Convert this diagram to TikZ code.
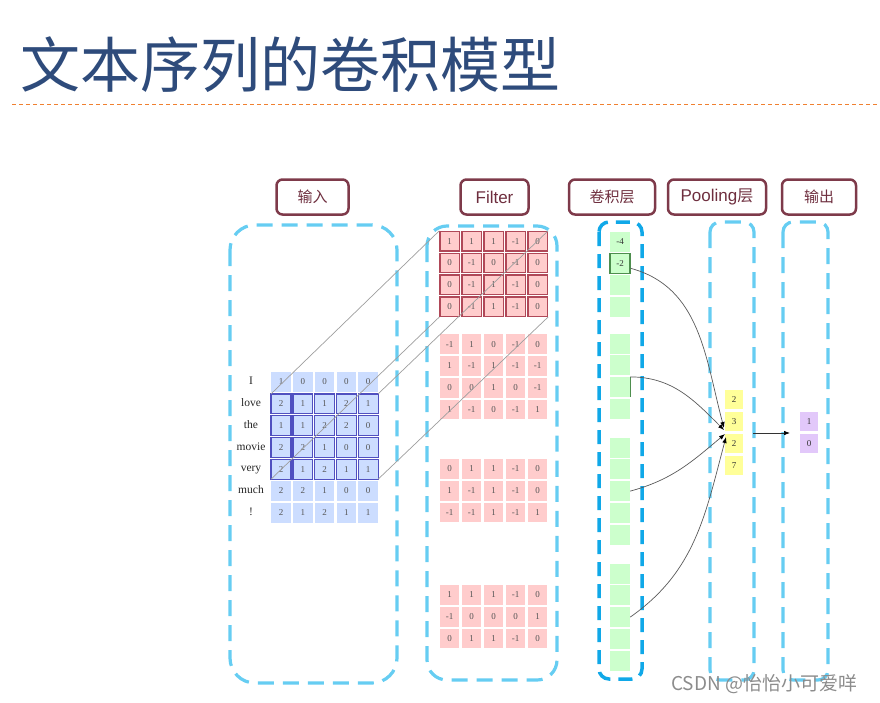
\documentclass[tikz,border=0pt]{standalone}
\usepackage{fontspec}
\setmainfont{Liberation Serif}
\newfontfamily\cjk{Noto Sans CJK SC}
\newfontfamily\arial{Liberation Sans}
\usetikzlibrary{arrows.meta}
\definecolor{titleblue}{HTML}{2E4B7B}
\definecolor{dashorange}{HTML}{F08030}
\definecolor{hdrborder}{HTML}{7E3A4A}
\definecolor{hdrtext}{HTML}{6E2E3E}
\definecolor{collight}{HTML}{66CDF2}
\definecolor{coldark}{HTML}{10A8E8}
\definecolor{inblue}{HTML}{CCDDFF}
\definecolor{inborder}{HTML}{5050C0}
\definecolor{fpink}{HTML}{FFCCCC}
\definecolor{fborder}{HTML}{B04858}
\definecolor{cgreen}{HTML}{CCFFCC}
\definecolor{cborder}{HTML}{4E8E4E}
\definecolor{pyellow}{HTML}{FFFF99}
\definecolor{opurple}{HTML}{E2C8FA}
\definecolor{numgray}{HTML}{555555}
\newcommand{\filtermat}[4]{%
  \foreach \rw [count=\r] in {#4} {
    \foreach \v [count=\c] in \rw {
      \node[#1] (#2-\r-\c) at ({449.7+(\c-1)*22}, {-#3-(\r-1)*21.8}) {\v};
    }
  }
}
\newcommand{\convgroup}[3]{%
  \foreach \k in {1,...,#3} {
    \node[ccell] (conv-#1-\k) at (620, {-#2-(\k-1)*21.8}) {};
  }
}
\tikzset{
  cell/.style={minimum width=19.5pt, minimum height=19.5pt, inner sep=0pt,
    font=\fontsize{9}{9}\selectfont, text=numgray},
  incell/.style={cell, fill=inblue},
  fcell/.style={cell, fill=fpink},
  fhl/.style={fcell, draw=fborder, line width=1.3pt},
  ccell/.style={cell, fill=cgreen, minimum width=20pt, minimum height=20pt, text=black!80},
  pcell/.style={cell, fill=pyellow, minimum width=18pt, minimum height=19pt, text=black!80},
  ocell/.style={cell, fill=opurple, minimum width=18pt, minimum height=19pt, text=black!80},
  word/.style={inner sep=0pt, font=\fontsize{11.5}{12}\selectfont, text=black!85,
    text height=8pt, text depth=2.5pt},
  hdr/.style={draw=hdrborder, line width=2.5pt, rounded corners=6pt, text=hdrtext,
    minimum height=35pt, inner sep=0pt},
  colbox/.style={draw=collight, line width=3.2pt, dash pattern=on 16pt off 9pt},
  guide/.style={draw=black!38, line width=0.7pt},
  conn/.style={draw=black!65, line width=0.7pt, -{Latex[length=6pt,width=4.5pt,color=black]}},
}
\begin{document}
\begin{tikzpicture}[x=1pt,y=1pt]
\useasboundingbox (0,0) rectangle (880,-702);
% title
\node[anchor=west, inner sep=0pt, text=titleblue, font=\cjk\fontsize{60}{60}\selectfont]
  (title) at (20,-65) {文本序列的卷积模型};
\draw[dashorange, line width=1pt, dash pattern=on 4pt off 3pt] (12,-104) -- (880,-104);
% headers
\node[hdr, minimum width=72pt, font=\cjk\fontsize{15}{15}\selectfont] (h-in) at (312.5,-197) {输入};
\node[hdr, minimum width=68pt, font=\arial\fontsize{17}{17}\selectfont] (h-filter) at (494.5,-197) {Filter};
\node[hdr, minimum width=86pt, font=\cjk\fontsize{15}{15}\selectfont] (h-conv) at (612,-197) {卷积层};
\node[hdr, minimum width=98pt, font=\arial\fontsize{17}{17}\selectfont] (h-pool) at (717,-197) {Pooling{\cjk\fontsize{16}{16}\selectfont 层}};
\node[hdr, minimum width=74pt, font=\cjk\fontsize{15}{15}\selectfont] (h-out) at (819,-197) {输出};
% dashed columns
\draw[colbox, rounded corners=25pt] (230,-225) rectangle (397,-683);
\draw[colbox, rounded corners=20pt] (427,-226) rectangle (557,-680);
\draw[colbox, draw=coldark, line width=3.5pt, dash pattern=on 14pt off 8pt, rounded corners=10pt] (599,-222) rectangle (642,-679);
\draw[colbox, rounded corners=10pt] (710,-222) rectangle (754,-680);
\draw[colbox, rounded corners=10pt] (783,-222) rectangle (828,-680);
% input words and matrix
\foreach \w [count=\r] in {I,love,the,movie,very,much,!}
  \node[word] (w-\r) at (251, {-382-(\r-1)*21.8}) {\w};
\foreach \rw [count=\r] in {{1,0,0,0,0},{2,1,1,2,1},{1,1,2,2,0},{2,2,1,0,0},{2,1,2,1,1},{2,2,1,0,0},{2,1,2,1,1}} {
  \foreach \v [count=\c] in \rw {
    \node[incell] (in-\r-\c) at ({281+(\c-1)*21.8}, {-382-(\r-1)*21.8}) {\v};
  }
}
\foreach \r in {2,...,5}
  \foreach \c in {1,...,5}
    \draw[inborder, line width=1.3pt] (in-\r-\c.south west) rectangle (in-\r-\c.north east);
% filters
\filtermat{fhl}{f1}{241.2}{{1,1,1,-1,0},{0,-1,0,-1,0},{0,-1,1,-1,0},{0,-1,1,-1,0}}
\filtermat{fcell}{f2}{344.2}{{-1,1,0,-1,0},{1,-1,1,-1,-1},{0,0,1,0,-1},{1,-1,0,-1,1}}
\filtermat{fcell}{f3}{469}{{0,1,1,-1,0},{1,-1,1,-1,0},{-1,-1,1,-1,1}}
\filtermat{fcell}{f4}{595}{{1,1,1,-1,0},{-1,0,0,0,1},{0,1,1,-1,0}}
% guide lines input window -> filter 1
\draw[guide] (in-2-1.north west) -- (f1-1-1.north west);
\draw[guide] (in-2-5.north east) -- (f1-1-5.north east);
\draw[guide] (in-5-1.south west) -- (f1-4-1.south west);
\draw[guide] (in-5-5.south east) -- (f1-4-5.south east);
% convolution layer
\node[ccell] (conv-1-1) at (620,-241.5) {-4};
\node[ccell, draw=cborder, line width=1.2pt] (conv-1-2) at (620,-263.3) {-2};
\node[ccell] (conv-1-3) at (620,-285.1) {};
\node[ccell] (conv-1-4) at (620,-306.9) {};
\convgroup{2}{343.5}{4}
\convgroup{3}{447.5}{5}
\convgroup{4}{573.5}{5}
\draw[cborder, line width=1.2pt] (conv-2-3.north east) -- (conv-2-3.south east);
% pooling
\foreach \v [count=\k] in {2,3,2,7}
  \node[pcell] (pool-\k) at (734, {-399.5-(\k-1)*22}) {\v};
% output
\node[ocell] (out-1) at (809,-421.5) {1};
\node[ocell] (out-2) at (809,-443.5) {0};
% connectors conv -> pooling
\coordinate (t1) at (724,-428);
\coordinate (t2) at (724,-430);
\coordinate (t3) at (725,-434);
\coordinate (t4) at (726,-437);
\draw[conn] ([yshift=-5pt]conv-1-2.east) to[out=-15,in=105] (t1);
\draw[conn] (conv-2-3.north east) to[out=0,in=135] (t2);
\draw[conn] (conv-3-3.east) to[out=15,in=220] (t3);
\draw[conn] (conv-4-3.east) to[out=35,in=255] (t4);
% pooling -> output
\coordinate (pa) at (753,-433);
\coordinate (pb) at (790,-433);
\draw[conn, draw=black!80] (pa) -- (pb);
% watermark
\node[anchor=west, inner sep=0pt, text=black!45, font=\cjk\fontsize{19}{19}\selectfont]
  (wm) at (671,-684) {CSDN @怡怡小可爱咩};
\end{tikzpicture}
\end{document}
